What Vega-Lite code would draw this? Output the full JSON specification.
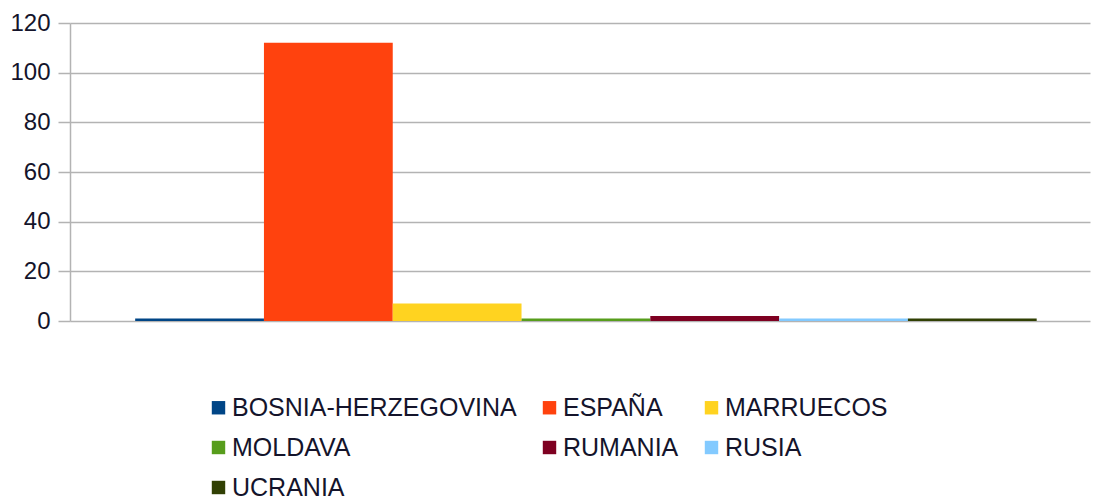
{
  "$schema": "https://vega.github.io/schema/vega-lite/v6.json",
  "autosize": "none",
  "width": 1020,
  "height": 298,
  "padding": {"left": 70, "top": 23, "right": 4, "bottom": 182},
  "background": "white",
  "config": {"view": {"stroke": null}, "font": "Liberation Sans"},
  "data": {"values": [
    {"pais": "BOSNIA-HERZEGOVINA", "valor": 1},
    {"pais": "ESPAÑA", "valor": 112},
    {"pais": "MARRUECOS", "valor": 7},
    {"pais": "MOLDAVA", "valor": 1},
    {"pais": "RUMANIA", "valor": 2},
    {"pais": "RUSIA", "valor": 1},
    {"pais": "UCRANIA", "valor": 1}
  ]},
  "mark": {"type": "bar"},
  "encoding": {
    "x": {"field": "pais", "type": "nominal", "sort": null, "axis": null,
          "scale": {"paddingInner": 0, "paddingOuter": 0.46, "align": 0.55}},
    "y": {"field": "valor", "type": "quantitative",
          "scale": {"domain": [0, 120], "nice": false},
          "axis": {"title": null, "values": [0, 20, 40, 60, 80, 100, 120],
                   "labelFontSize": 24, "labelColor": "#14142b", "labelPadding": 8,
                   "tickSize": 12, "tickColor": "#b3b3b3", "tickWidth": 1.5,
                   "domainColor": "#b3b3b3", "domainWidth": 1.5,
                   "gridColor": "#b3b3b3", "gridWidth": 1.5}},
    "color": {"field": "pais", "type": "nominal",
      "scale": {"domain": ["BOSNIA-HERZEGOVINA", "ESPAÑA", "MARRUECOS", "MOLDAVA", "RUMANIA", "RUSIA", "UCRANIA"],
                "range": ["#004586", "#ff420e", "#ffd320", "#579d1c", "#7e0021", "#83caff", "#314004"]},
      "legend": {"title": null, "orient": "none", "legendX": 136, "legendY": 372,
                 "columns": 3, "direction": "horizontal", "symbolType": "square", "symbolSize": 180,
                 "symbolStrokeWidth": 0, "labelFontSize": 25, "labelColor": "#14142b", "labelOffset": 1,
                 "columnPadding": 20, "rowPadding": 14, "labelLimit": 400}}
  }
}
